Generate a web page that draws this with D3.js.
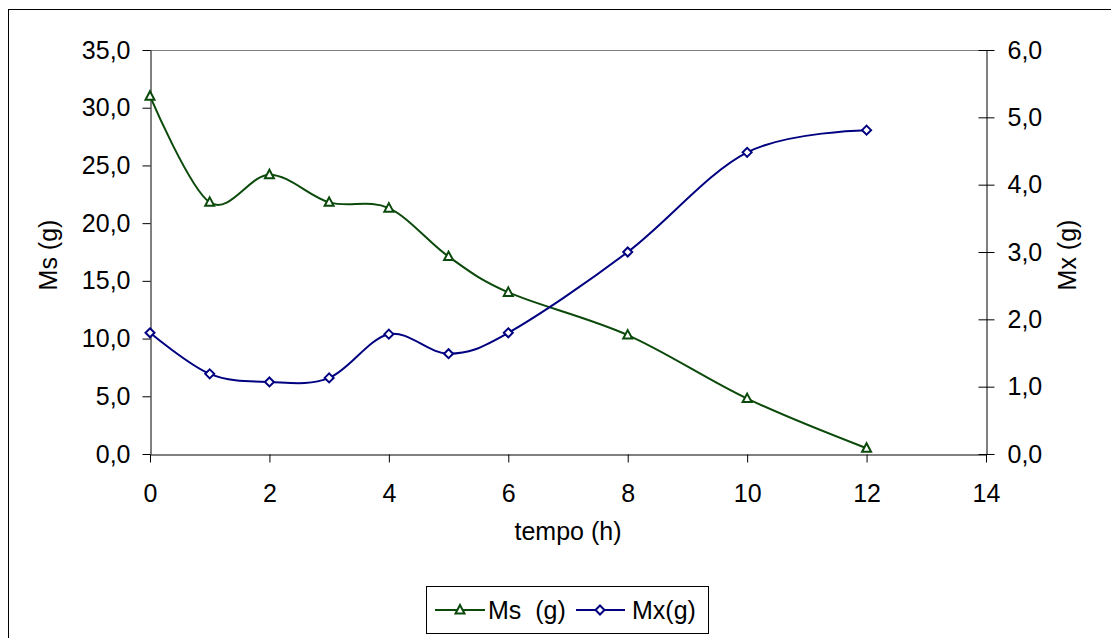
<!DOCTYPE html>
<html>
<head>
<meta charset="utf-8">
<script src="https://cdn.jsdelivr.net/npm/d3@7"></script>
<style>
  html, body { margin: 0; padding: 0; background: #fff; }
  svg { display: block; font-family: "Liberation Sans", Arial, sans-serif; }
</style>
</head>
<body>
<svg id="chart" width="1111" height="638"></svg>
<script>
// ---- data ----
const tempo = [0, 1, 2, 3, 4, 5, 6, 8, 10, 12];
const ms = [31.0, 21.8, 24.2, 21.8, 21.3, 17.1, 14.0, 10.3, 4.8, 0.5];
const mx = [1.80, 1.19, 1.07, 1.13, 1.78, 1.49, 1.80, 3.00, 4.48, 4.81];
const xTicks = [0, 2, 4, 6, 8, 10, 12, 14];
const leftTicks = [0, 5, 10, 15, 20, 25, 30, 35];
const rightTicks = [0, 1, 2, 3, 4, 5, 6];
const seriesNames = ["Ms  (g)", "Mx(g)"];
const xTitle = "tempo (h)";
const leftTitle = "Ms (g)";
const rightTitle = "Mx (g)";

// ---- layout ----
const svg = d3.select("#chart");
const L = 150, R = 986, T = 50, B = 454;
const FS = 25;
const cMs = "#0b4a0b", cMx = "#000080";

const x = d3.scaleLinear().domain([0, 14]).range([L, R]);
const yL = d3.scaleLinear().domain([0, 35]).range([B, T]);
const yR = d3.scaleLinear().domain([0, 6]).range([B, T]);
const fmt = v => d3.format(".1f")(v).replace(".", ",");

// outer frame (cropped on right/bottom)
svg.append("rect").attr("x", 8.5).attr("y", 9.5).attr("width", 1120).attr("height", 650)
  .attr("fill", "#fff").attr("stroke", "#000").attr("stroke-width", 1);

// plot area top border (grey)
svg.append("line").attr("x1", L).attr("x2", R).attr("y1", T + 0.5).attr("y2", T + 0.5)
  .attr("stroke", "#808080").attr("stroke-width", 1);

// axes
const gx = svg.append("g").attr("transform", `translate(0,${B + 0.5})`)
  .call(d3.axisBottom(x).tickValues(xTicks).tickFormat(d3.format("d")).tickSize(8).tickSizeOuter(0).tickPadding(22));
const gl = svg.append("g").attr("transform", `translate(${L + 0.5},0)`)
  .call(d3.axisLeft(yL).tickValues(leftTicks).tickFormat(fmt).tickSize(8).tickSizeOuter(0).tickPadding(12));
const gr = svg.append("g").attr("transform", `translate(${R + 0.5},0)`)
  .call(d3.axisRight(yR).tickValues(rightTicks).tickFormat(fmt).tickSize(8).tickSizeOuter(0).tickPadding(13));
gr.selectAll(".tick line").attr("x1", -8);

[gx, gl, gr].forEach(g => {
  g.selectAll("text").attr("font-size", FS).attr("fill", "#000")
    .attr("font-family", "'Liberation Sans', Arial, sans-serif");
  g.selectAll("line, path").attr("stroke", "#000");
});

// axis titles
svg.append("text").attr("x", 568).attr("y", 540).attr("text-anchor", "middle")
  .attr("font-size", FS).text(xTitle);
svg.append("text").attr("transform", "translate(57,255) rotate(-90)").attr("text-anchor", "middle")
  .attr("font-size", FS).text(leftTitle);
svg.append("text").attr("transform", "translate(1076,255) rotate(-90)").attr("text-anchor", "middle")
  .attr("font-size", FS).text(rightTitle);

// lines
const curve = d3.curveCardinal.tension(0);
const lineMs = d3.line().x((d, i) => x(tempo[i])).y(d => yL(d)).curve(curve);
const lineMx = d3.line().x((d, i) => x(tempo[i])).y(d => yR(d)).curve(curve);

svg.append("path").attr("d", lineMs(ms)).attr("fill", "none").attr("stroke", cMs).attr("stroke-width", 2);
svg.append("path").attr("d", lineMx(mx)).attr("fill", "none").attr("stroke", cMx).attr("stroke-width", 2);

const tri = d3.symbol().type(d3.symbolTriangle).size(38);
const dia = d3.symbol().type(d3.symbolDiamond).size(38);

function triPath(cx, cy) { return `M${cx},${cy - 5}L${cx + 4.5},${cy + 3.5}L${cx - 4.5},${cy + 3.5}Z`; }
function diaPath(cx, cy) { return `M${cx},${cy - 4.5}L${cx + 4.5},${cy}L${cx},${cy + 4.5}L${cx - 4.5},${cy}Z`; }

svg.append("g").selectAll("path").data(ms).join("path")
  .attr("d", (d, i) => triPath(x(tempo[i]), yL(d)))
  .attr("fill", "#fff").attr("stroke", cMs).attr("stroke-width", 2);
svg.append("g").selectAll("path").data(mx).join("path")
  .attr("d", (d, i) => diaPath(x(tempo[i]), yR(d)))
  .attr("fill", "#fff").attr("stroke", cMx).attr("stroke-width", 2);

// legend
const lg = svg.append("g");
lg.append("rect").attr("x", 426.5).attr("y", 586.5).attr("width", 282).attr("height", 47)
  .attr("fill", "#fff").attr("stroke", "#000").attr("stroke-width", 1);
const ly = 610;
lg.append("line").attr("x1", 435).attr("x2", 485).attr("y1", ly).attr("y2", ly).attr("stroke", cMs).attr("stroke-width", 2);
lg.append("path").attr("d", triPath(460, ly)).attr("fill", "#fff").attr("stroke", cMs).attr("stroke-width", 2);
lg.append("text").attr("x", 488).attr("y", ly + 9).attr("font-size", FS).attr("xml:space", "preserve")
  .style("white-space", "pre").text(seriesNames[0]);
lg.append("line").attr("x1", 576).attr("x2", 625).attr("y1", ly).attr("y2", ly).attr("stroke", cMx).attr("stroke-width", 2);
lg.append("path").attr("d", diaPath(600, ly)).attr("fill", "#fff").attr("stroke", cMx).attr("stroke-width", 2);
lg.append("text").attr("x", 632).attr("y", ly + 9).attr("font-size", FS).text(seriesNames[1]);
</script>
</body>
</html>
